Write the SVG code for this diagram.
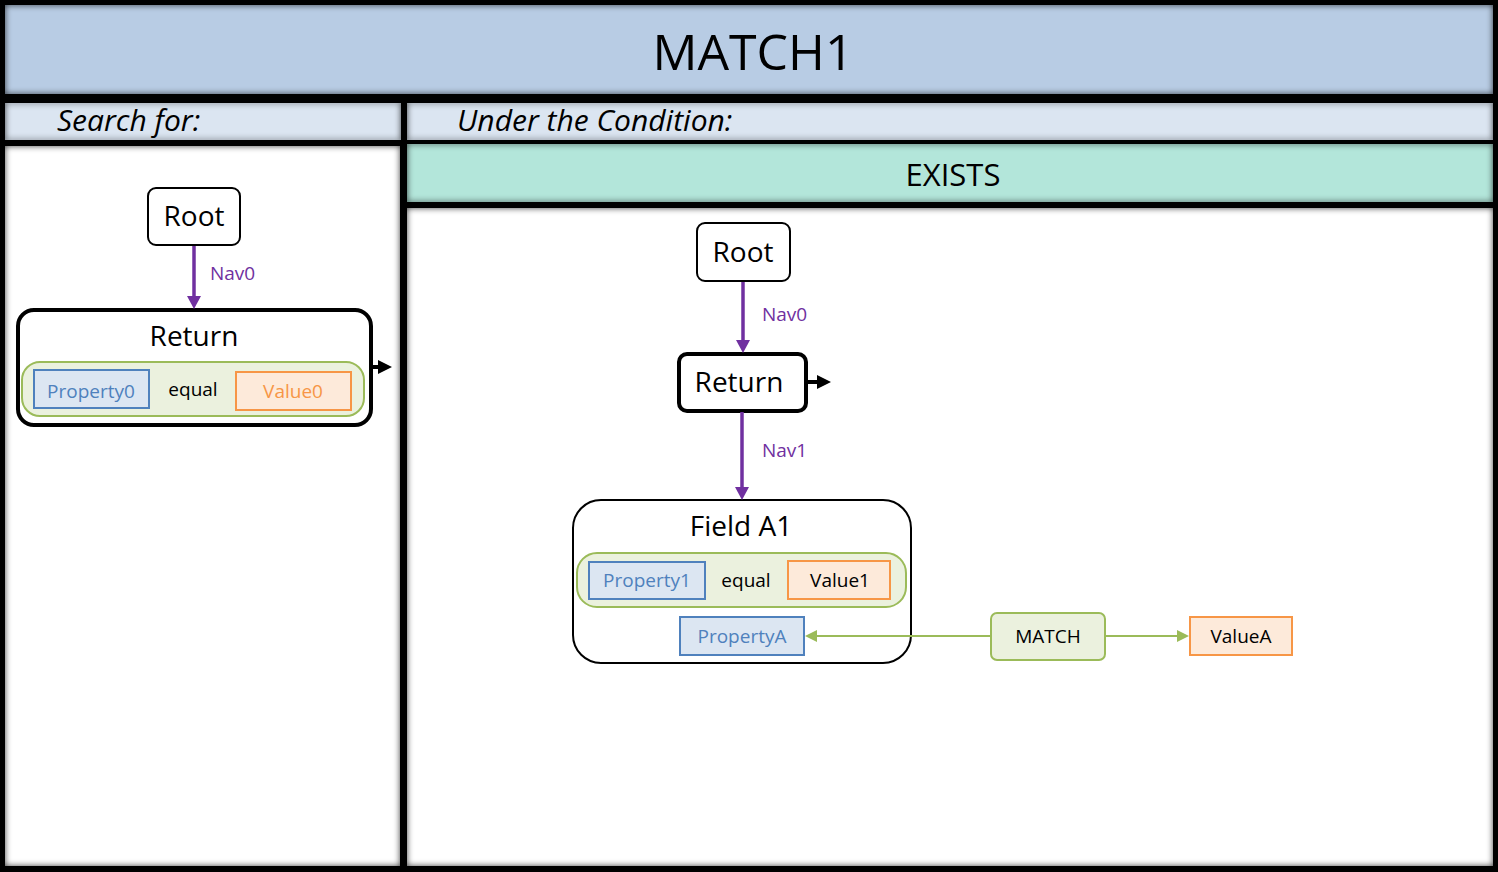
<svg xmlns="http://www.w3.org/2000/svg" width="1498" height="872" viewBox="0 0 1498 872">
<style>
  text { font-family: "Open Sans", "Liberation Sans", sans-serif; fill: #000; }
  .title { font-size: 50px; text-anchor: middle; }
  .hdr { font-size: 30px; font-style: italic; }
  .big { font-size: 28px; text-anchor: middle; }
  .sm { font-size: 19px; text-anchor: middle; }
  .nav { font-size: 19px; fill: #7030A0; }
  .node { fill: #fff; stroke: #000; stroke-width: 2; }
  .ret { fill: #fff; stroke: #000; stroke-width: 4; }
  .cond { fill: #EBF1DE; stroke: #9BBB59; stroke-width: 2; }
  .prop { fill: #DCE6F2; stroke: #4F81BD; stroke-width: 2; }
  .val { fill: #FDEADA; stroke: #F79646; stroke-width: 2; }
  .ptxt { fill: #4F81BD; }
  .vtxt { fill: #F79646; }
  .purple { stroke: #7030A0; stroke-width: 3.5; fill: none; }
  .green { stroke: #9BBB59; stroke-width: 2; fill: none; }
  .blk { stroke: #000; stroke-width: 4; fill: none; }
</style>
<defs>
  <filter id="inner" x="-5%" y="-5%" width="110%" height="110%" color-interpolation-filters="sRGB">
    <feFlood flood-color="#000" flood-opacity="0.75" result="c"/>
    <feComposite in="c" in2="SourceAlpha" operator="out" result="inv"/>
    <feGaussianBlur in="inv" stdDeviation="3" result="b"/>
    <feComposite in="b" in2="SourceAlpha" operator="in" result="sh"/>
    <feMerge><feMergeNode in="SourceGraphic"/><feMergeNode in="sh"/></feMerge>
  </filter>
  <marker id="mPurple" viewBox="0 0 13 14" refX="0" refY="7" markerWidth="13" markerHeight="14" orient="auto" markerUnits="userSpaceOnUse">
    <path d="M0,0 L13,7 L0,14 z" fill="#7030A0"/>
  </marker>
  <marker id="mBlack" viewBox="0 0 14 14" refX="0" refY="7" markerWidth="14" markerHeight="14" orient="auto" markerUnits="userSpaceOnUse">
    <path d="M0,0 L14,7 L0,14 z" fill="#000"/>
  </marker>
  <marker id="mGreen" viewBox="0 0 12 12" refX="0" refY="6" markerWidth="12" markerHeight="12" orient="auto" markerUnits="userSpaceOnUse">
    <path d="M0,0 L12,6 L0,12 z" fill="#9BBB59"/>
  </marker>
</defs>

<rect x="0" y="0" width="1498" height="872" fill="#000"/>

<g id="panels">
  <rect x="5" y="5" width="1488" height="89" fill="#B8CCE4" filter="url(#inner)"/>
  <rect x="5" y="103" width="396" height="37" fill="#DBE5F1" filter="url(#inner)"/>
  <rect x="407" y="103" width="1086" height="37" fill="#DBE5F1" filter="url(#inner)"/>
  <rect x="5" y="146" width="395" height="720" fill="#fff" filter="url(#inner)"/>
  <rect x="407" y="144" width="1086" height="58" fill="#B3E6DA" filter="url(#inner)"/>
  <rect x="407" y="208" width="1086" height="658" fill="#fff" filter="url(#inner)"/>
  <text class="title" x="753" y="70">MATCH1</text>
  <text class="hdr" x="57" y="131">Search for:</text>
  <text class="hdr" x="457" y="131">Under the Condition:</text>
  <text class="big" x="953" y="186" style="font-size:31px">EXISTS</text>
</g>

<g id="root-left">
  <rect class="node" x="148" y="188" width="92" height="57" rx="8"/>
  <text class="big" x="194" y="226">Root</text>
</g>

<g id="return-left">
  <rect class="ret" x="18" y="310" width="353" height="115" rx="16"/>
  <text class="big" x="194" y="346">Return</text>
  <rect class="cond" x="22" y="362" width="342" height="54" rx="18"/>
  <rect class="prop" x="34" y="370" width="115" height="38"/>
  <text class="sm ptxt" x="91" y="398">Property0</text>
  <text class="sm" x="193" y="396">equal</text>
  <rect class="val" x="236" y="372" width="115" height="38"/>
  <text class="sm vtxt" x="293" y="398">Value0</text>
</g>

<g id="root-right">
  <rect class="node" x="697" y="223" width="93" height="58" rx="8"/>
  <text class="big" x="743" y="262">Root</text>
</g>

<g id="return-right">
  <rect class="ret" x="679" y="354" width="127" height="57" rx="8"/>
  <text class="big" x="739" y="392">Return</text>
</g>

<g id="field-a1">
  <rect class="node" x="573" y="500" width="338" height="163" rx="28"/>
  <text class="big" x="741" y="536">Field A1</text>
  <rect class="cond" x="577" y="553" width="329" height="54" rx="20"/>
  <rect class="prop" x="589" y="562" width="116" height="37"/>
  <text class="sm ptxt" x="647" y="587">Property1</text>
  <text class="sm" x="746" y="587">equal</text>
  <rect class="val" x="788" y="561" width="102" height="38"/>
  <text class="sm" x="840" y="587">Value1</text>
  <rect class="prop" x="680" y="617" width="124" height="38"/>
  <text class="sm ptxt" x="742" y="643">PropertyA</text>
</g>

<g id="match">
  <rect class="cond" x="991" y="613" width="114" height="47" rx="6"/>
  <text class="sm" x="1048" y="643">MATCH</text>
</g>

<g id="valueA">
  <rect class="val" x="1190" y="617" width="102" height="38"/>
  <text class="sm" x="1241" y="643">ValueA</text>
</g>

<g id="connectors">
  <line class="purple" x1="194" y1="246" x2="194" y2="296" marker-end="url(#mPurple)"/>
  <text class="nav" x="210" y="280">Nav0</text>
  <line class="blk" x1="373" y1="367" x2="378" y2="367" marker-end="url(#mBlack)"/>
  <line class="purple" x1="743" y1="282" x2="743" y2="340" marker-end="url(#mPurple)"/>
  <text class="nav" x="762" y="321">Nav0</text>
  <line class="blk" x1="808" y1="382" x2="817" y2="382" marker-end="url(#mBlack)"/>
  <line class="purple" x1="742" y1="412" x2="742" y2="487" marker-end="url(#mPurple)"/>
  <text class="nav" x="762" y="457">Nav1</text>
  <line class="green" x1="991" y1="636" x2="817" y2="636" marker-end="url(#mGreen)"/>
  <line class="green" x1="1105" y1="636" x2="1177" y2="636" marker-end="url(#mGreen)"/>
</g>
</svg>
